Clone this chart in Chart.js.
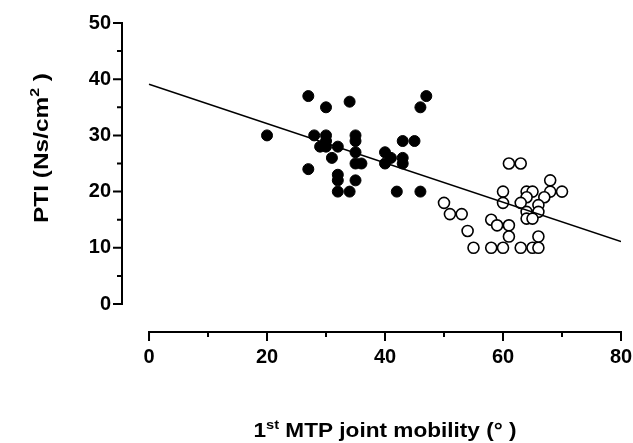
<!DOCTYPE html>
<html>
<head>
<meta charset="utf-8">
<script src="https://cdn.jsdelivr.net/npm/chart.js@4"></script>
<style>
html, body { margin: 0; padding: 0; background: #fff; }
</style>
</head>
<body>
<canvas id="chart" width="633" height="443"></canvas>
<script>
// filled circles
const filledX = [20, 27, 27, 28, 29, 30, 30, 30, 30, 31, 32, 32, 32, 32, 34, 34, 35, 35, 35, 35, 35, 36, 40, 40, 41, 42, 43, 43, 43, 45, 46, 46, 47];
const filledY = [30, 37, 24, 30, 28, 35, 30, 29, 28, 26, 28, 23, 22, 20, 36, 20, 30, 29, 27, 25, 22, 25, 27, 25, 26, 20, 29, 26, 25, 29, 35, 20, 37];

// open circles
const openX = [50, 51, 53, 54, 55, 58, 59, 61, 61, 58, 60, 63, 65, 66, 66, 60, 60, 61, 63, 64, 65, 68, 70, 68, 64, 67, 63, 66, 64, 66, 64, 65];
const openY = [18, 16, 16, 13, 10, 15, 14, 14, 12, 10, 10, 10, 10, 10, 12, 20, 18, 25, 25, 20, 20, 20, 20, 22, 19, 19, 18, 17.6, 16.4, 16.4, 15.2, 15.2];

// regression line
const fitX = [0, 80];
const fitY = [39.1, 11.1];

// axis ticks
const xTicks = [0, 20, 40, 60, 80];
const xMinor = [10, 30, 50, 70];
const yTicks = [0, 10, 20, 30, 40, 50];
const yMinor = [5, 15, 25, 35, 45];

const FONT = "'Liberation Sans', Arial, sans-serif";

function toPoints(xs, ys) {
    return xs.map((x, i) => ({ x: x, y: ys[i] }));
}

// text in pieces (for superscripts), centred on cx, stretched along the line
function drawParts(ctx, parts, cx, baseY, stretch) {
    let total = 0;
    parts.forEach(p => { ctx.font = p[1]; total += ctx.measureText(p[0]).width; });
    ctx.save();
    ctx.translate(cx, baseY);
    ctx.scale(stretch, 1);
    let x = -total / 2;
    parts.forEach(p => {
        ctx.font = p[1];
        ctx.fillText(p[0], x, p[2]);
        x += ctx.measureText(p[0]).width;
    });
    ctx.restore();
}

// draws the two detached axes, tick marks and titles
const axesPlugin = {
    id: 'axes',
    afterDraw(chart) {
        const ctx = chart.ctx;
        const xs = chart.scales.x;
        const ys = chart.scales.y;
        const ca = chart.chartArea;
        ctx.save();
        ctx.strokeStyle = '#000';
        ctx.lineWidth = 2;
        ctx.beginPath();
        ctx.moveTo(ca.left, ys.getPixelForValue(0) + 1);
        ctx.lineTo(ca.left, ys.getPixelForValue(50) - 1);
        yTicks.forEach(v => {
            const p = ys.getPixelForValue(v);
            ctx.moveTo(ca.left - 9, p);
            ctx.lineTo(ca.left, p);
        });
        yMinor.forEach(v => {
            const p = ys.getPixelForValue(v);
            ctx.moveTo(ca.left - 5, p);
            ctx.lineTo(ca.left, p);
        });
        ctx.moveTo(xs.getPixelForValue(0) - 1, ca.bottom);
        ctx.lineTo(xs.getPixelForValue(80) + 1, ca.bottom);
        xTicks.forEach(v => {
            const p = xs.getPixelForValue(v);
            ctx.moveTo(p, ca.bottom);
            ctx.lineTo(p, ca.bottom + 9);
        });
        xMinor.forEach(v => {
            const p = xs.getPixelForValue(v);
            ctx.moveTo(p, ca.bottom);
            ctx.lineTo(p, ca.bottom + 5);
        });
        ctx.stroke();

        ctx.fillStyle = '#000';
        ctx.textBaseline = 'alphabetic';
        ctx.textAlign = 'left';
        const big = 'bold 20px ' + FONT;
        const small = 'bold 13px ' + FONT;

        // x title: 1st MTP joint mobility (°)
        const xParts = [['1', big, 0], ['st', small, -8], [' MTP joint mobility (\u00b0 )', big, 0]];
        drawParts(ctx, xParts, (xs.getPixelForValue(0) + xs.getPixelForValue(80)) / 2, 437, 1.13);

        // y title: PTI (Ns/cm2)
        ctx.save();
        ctx.translate(48, 148);
        ctx.rotate(-Math.PI / 2);
        const yParts = [['PTI (Ns/cm', big, 0], ['2', small, -9], [' )', big, 0]];
        drawParts(ctx, yParts, 0, 0, 1.22);
        ctx.restore();
        ctx.restore();
    }
};

const tickFont = { family: FONT, size: 20, weight: 'bold' };

new Chart(document.getElementById('chart'), {
    type: 'scatter',
    data: {
        datasets: [{
            label: 'fit',
            data: toPoints(fitX, fitY),
            showLine: true,
            borderColor: '#000',
            borderWidth: 1.5,
            pointRadius: 0,
            order: 0
        }, {
            label: 'filled',
            data: toPoints(filledX, filledY),
            pointRadius: 5.5,
            backgroundColor: '#000',
            borderColor: '#000',
            borderWidth: 1,
            order: 1
        }, {
            label: 'open',
            data: toPoints(openX, openY),
            pointRadius: 5.5,
            backgroundColor: '#fff',
            borderColor: '#000',
            borderWidth: 1.6,
            order: 1
        }]
    },
    options: {
        responsive: false,
        animation: false,
        layout: { padding: { left: 0, top: 23, right: 12, bottom: 0 } },
        plugins: {
            legend: { display: false },
            tooltip: { enabled: false }
        },
        scales: {
            x: {
                type: 'linear',
                min: -4.58,
                max: 80,
                border: { display: false },
                grid: { display: false, drawTicks: false },
                afterBuildTicks: s => { s.ticks = xTicks.map(v => ({ value: v })); },
                afterFit: s => { s.height = 111; s.paddingLeft = 0; s.paddingRight = 0; },
                ticks: { color: '#000', font: tickFont, padding: 13, maxRotation: 0, autoSkip: false }
            },
            y: {
                type: 'linear',
                min: -4.98,
                max: 50,
                border: { display: false },
                grid: { display: false, drawTicks: false },
                afterBuildTicks: s => { s.ticks = yTicks.map(v => ({ value: v })); },
                afterFit: s => { s.width = 122; s.paddingTop = 0; s.paddingBottom = 0; },
                ticks: { color: '#000', font: tickFont, padding: 11, autoSkip: false }
            }
        }
    },
    plugins: [axesPlugin]
});
</script>
</body>
</html>
